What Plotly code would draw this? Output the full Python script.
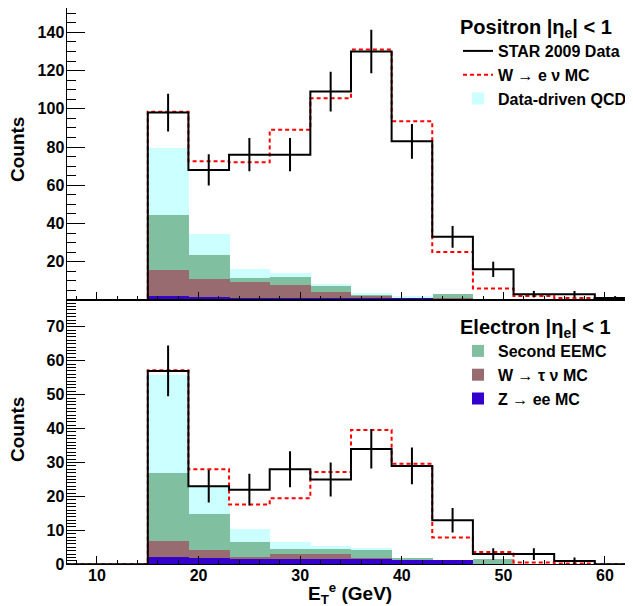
import plotly.graph_objects as go

# ---------------- data ----------------
edges = [7, 15, 19, 23, 27, 31, 35, 39, 43, 47, 51, 55, 59, 63]
centers = [17, 21, 25, 29, 33, 37, 41, 45, 49, 53, 57, 61]

# Positron |eta_e| < 1
pos_data = [98, 68, 76, 76, 109, 130, 83, 33, 16, 3, 3, 1]
pos_err = [9.9, 8.2, 8.7, 8.7, 10.4, 11.4, 9.1, 5.7, 4.0, 1.7, 1.7, 1.0]
pos_wenu = [98.5, 72.5, 72, 89, 105.5, 131, 93.5, 25, 6, 2, 1, 0.5]
pos_z = [2.0, 1.4, 1.2, 1.2, 1.0, 1.0, 1.0, 0.8, 0, 0, 0, 0]
pos_wtau = [13.6, 9.5, 8.3, 6.6, 3.1, 1.2, 0.2, 0.1, 0, 0, 0, 0]
pos_eemc = [28.8, 12.8, 2.1, 4.2, 3.0, 0.4, 0.3, 2.2, 0, 0, 0, 0]
pos_qcd = [34.9, 10.8, 4.6, 2.2, 1.4, 0.5, 0.1, 0, 0, 0, 0, 0]

# Electron |eta_e| < 1
ele_data = [57, 23, 22, 28, 25, 34, 29, 13, 3, 3, 1, 0]
ele_err = [7.5, 4.8, 4.7, 5.3, 5.0, 5.8, 5.4, 3.6, 1.7, 1.7, 1.0, 0]
ele_wenu = [57.2, 28, 17.6, 19.5, 27.2, 39.6, 29.6, 7.9, 3.6, 0.5, 0.2, 0]
ele_z = [2.2, 1.9, 1.7, 1.6, 1.6, 1.6, 1.3, 1.3, 0, 0, 0, 0]
ele_wtau = [4.7, 2.3, 0.4, 1.5, 1.4, 0.2, 0, 0, 0, 0, 0, 0]
ele_eemc = [20.1, 10.7, 4.5, 1.3, 1.4, 2.3, 0.5, 0, 1.5, 0, 0, 0]
ele_qcd = [28.8, 8.6, 3.8, 2.2, 1.1, 0.7, 0, 0, 0, 0, 0, 0]

pos_yticks = [20, 40, 60, 80, 100, 120, 140]
ele_yticks = [0, 10, 20, 30, 40, 50, 60, 70]
x_ticks = [10, 20, 30, 40, 50, 60]

# ---------------- styles ----------------
F = "Liberation Sans, Arial, sans-serif"
C_QCD = "#ccffff"
C_EEMC = "#80c0a0"
C_WTAU = "#986b70"
C_Z = "#3300cc"

# page is 633x606; the figure div sits 8px in from the top-left corner
OFF = 8
W, H = 633 - OFF, 606 - OFF


def px(xp):
    return (xp - OFF) / W


def py(yp):
    return min(1.0, max(0.0, 1 - (yp - OFF) / H))


def step_y(vals):
    return [0] + list(vals) + [vals[-1]]


fig = go.Figure()

panels = [
    ("x", "y", pos_data, pos_err, pos_wenu, pos_z, pos_wtau, pos_eemc, pos_qcd, True),
    ("x2", "y2", ele_data, ele_err, ele_wenu, ele_z, ele_wtau, ele_eemc, ele_qcd, False),
]

for xa, ya, dat, err, wenu, z, wtau, eemc, qcd, top in panels:
    comps = [
        ("Z → ee MC", z, C_Z, "legend2", 3),
        ("W → τ ν MC", wtau, C_WTAU, "legend2", 2),
        ("Second EEMC", eemc, C_EEMC, "legend2", 1),
        ("Data-driven QCD", qcd, C_QCD, "legend", 3),
    ]
    for name, vals, col, leg, rank in comps:
        show = (leg == "legend" and top) or (leg == "legend2" and not top)
        fig.add_trace(go.Bar(
            x=centers, y=vals, width=4, name=name, marker=dict(color=col, line=dict(width=0)),
            xaxis=xa, yaxis=ya, showlegend=show, legend=leg, legendrank=rank,
        ))
    fig.add_trace(go.Scatter(
        x=edges, y=step_y(wenu), mode="lines", line=dict(shape="hv", color="#ff0000", width=2, dash="4px,3px"),
        name="W → e ν MC", xaxis=xa, yaxis=ya, showlegend=top, legend="legend", legendrank=2,
    ))
    fig.add_trace(go.Scatter(
        x=edges, y=step_y(dat), mode="lines", line=dict(shape="hv", color="black", width=2),
        name="STAR 2009 Data", xaxis=xa, yaxis=ya, showlegend=top, legend="legend", legendrank=1,
    ))
    fig.add_trace(go.Scatter(
        x=centers, y=dat, mode="markers", marker=dict(size=1, color="black"),
        error_y=dict(type="data", array=err, width=0, thickness=2, color="black"),
        xaxis=xa, yaxis=ya, showlegend=False,
    ))

x0 = 66.5
xdom = [px(x0), 1.0]
xrange_ = [7, 7 + (633 - x0) / 10.16]

tickfont = dict(family=F, size=16, color="black", weight="bold")


def xaxis_cfg(anchor, labels):
    return dict(
        domain=xdom, range=xrange_, anchor=anchor, showline=True, linecolor="black", linewidth=1,
        mirror=True, ticks="inside", ticklen=8, tickwidth=1, tickcolor="black",
        tickmode="array", tickvals=x_ticks, showticklabels=labels, tickfont=tickfont,
        ticklabelstandoff=-4,
        minor=dict(tickmode="linear", tick0=0, dtick=2, ticks="inside", ticklen=4, tickcolor="black", tickwidth=1),
        showgrid=False, zeroline=False, fixedrange=True, automargin=False,
    )


def yaxis_cfg(anchor, dom, rng, tv, mdt):
    return dict(
        domain=dom, range=rng, anchor=anchor, showline=True, linecolor="black", linewidth=1,
        mirror=False, ticks="inside", ticklen=18, tickwidth=1, tickcolor="black",
        tickmode="array", tickvals=tv, tickfont=tickfont, ticklabelstandoff=-2,
        minor=dict(tickmode="linear", tick0=0, dtick=mdt, ticks="inside", ticklen=9, tickcolor="black", tickwidth=1),
        showgrid=False, zeroline=False, fixedrange=True, automargin=False,
    )


# top panel: y=0 at page 299.9, 1.911 px per count; top clipped at figure edge
top_dom = [py(299.9), 1.0]
top_range = [0, (299.9 - OFF) / 1.911]
bot_dom = [py(564.3), py(300.0)]

legfont = dict(family=F, size=16, color="black", weight="bold")
titlefont = dict(family=F, size=20, color="black", weight="bold")

fig.update_layout(
    template="none",
    width=W, height=H, margin=dict(l=0, r=0, t=0, b=0, pad=0, autoexpand=False),
    paper_bgcolor="white", plot_bgcolor="white",
    barmode="stack", bargap=0, hovermode=False,
    font=dict(family=F, color="black"),
    xaxis=xaxis_cfg("y", False),
    xaxis2=xaxis_cfg("y2", True),
    yaxis=yaxis_cfg("x", top_dom, top_range, pos_yticks, 5),
    yaxis2=yaxis_cfg("x2", bot_dom, [0, 77.9], ele_yticks, 1),
    legend=dict(
        x=px(458), xanchor="left", y=py(8), yanchor="top", traceorder="normal",
        bgcolor="rgba(0,0,0,0)", borderwidth=0, tracegroupgap=0,
        font=legfont,
        title=dict(text="Positron |η<sub>e</sub>| &lt; 1", font=titlefont),
    ),
    legend2=dict(
        x=px(458), xanchor="left", y=py(308), yanchor="top", traceorder="normal",
        bgcolor="rgba(0,0,0,0)", borderwidth=0, tracegroupgap=0,
        font=legfont,
        title=dict(text="Electron |η<sub>e</sub>| &lt; 1", font=titlefont),
    ),
    annotations=[
        dict(text="Counts", x=px(17), y=py(150), xref="paper", yref="paper", textangle=-90,
             showarrow=False, xanchor="center", yanchor="middle",
             font=dict(family=F, size=19, color="black", weight="bold")),
        dict(text="Counts", x=px(17), y=py(430), xref="paper", yref="paper", textangle=-90,
             showarrow=False, xanchor="center", yanchor="middle",
             font=dict(family=F, size=19, color="black", weight="bold")),
        dict(text="E<sub>T</sub><sup>e</sup> (GeV)", x=px(350), y=py(593), xref="paper", yref="paper",
             showarrow=False, xanchor="center", yanchor="middle",
             font=dict(family=F, size=19, color="black", weight="bold")),
    ],
)

fig.write_html("out.html")
